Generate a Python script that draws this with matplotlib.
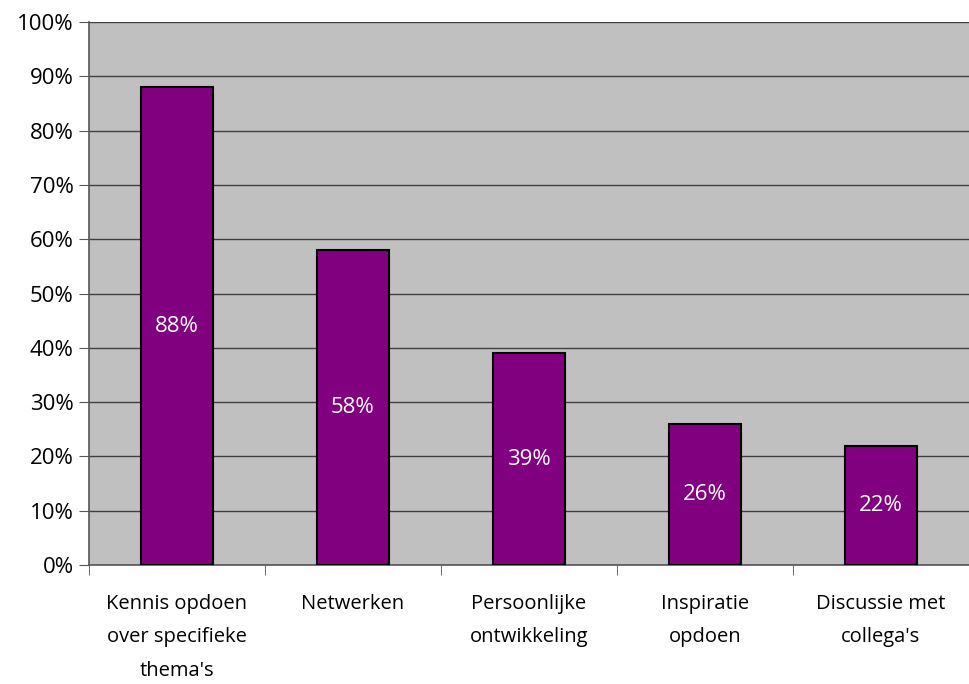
import numpy as np
import matplotlib.pyplot as plt
from matplotlib.ticker import PercentFormatter

categories = ["Kennis opdoen\nover specifieke\nthema's", "Netwerken", "Persoonlijke\nontwikkeling",
              "Inspiratie\nopdoen", "Discussie met\ncollega's"]
values = [88, 58, 39, 26, 22]

plt.rcParams['font.family'] = ['Open Sans', 'DejaVu Sans']

fig = plt.figure(figsize=(9.69, 6.84), dpi=100)
ax = fig.add_axes([89 / 969, 119 / 684, 880 / 969, 543 / 684])
ax.set_facecolor('#c0c0c0')

x = np.arange(len(values))
bars = ax.bar(x, values, width=0.41, color='#800080', edgecolor='black', lw=1.5, zorder=3)
for b, v in zip(bars, values):
    ax.text(b.get_x() + b.get_width() / 2, v / 2, '%d%%' % v, color='white',
            ha='center', va='center', fontsize=16, zorder=4)

ax.set_xlim(-0.5, len(values) - 0.5)
ax.set_ylim(0, 100)
ax.set_yticks(np.arange(0, 101, 10))
ax.yaxis.set_major_formatter(PercentFormatter(decimals=0))
ax.yaxis.grid(True, color='#404040', lw=1, zorder=1)

# category labels centred, ticks on the boundaries
ax.set_xticks(x)
ax.set_xticklabels(categories, fontsize=14.5, linespacing=1.88)
ax.tick_params(axis='x', length=0, pad=21)
ax.set_xticks(np.arange(-0.5, len(values), 1), minor=True)
ax.tick_params(axis='x', which='minor', length=7, color='#555555', direction='out')
ax.tick_params(axis='y', length=7, color='#555555', direction='out', labelsize=16, pad=4)

for s in ['top', 'right']:
    ax.spines[s].set_visible(False)
ax.spines['left'].set_color('#555555')
ax.spines['bottom'].set_color('#555555')
ax.spines['left'].set_linewidth(1.2)
ax.spines['bottom'].set_linewidth(1.2)

fig.savefig('out.png', dpi=100)
